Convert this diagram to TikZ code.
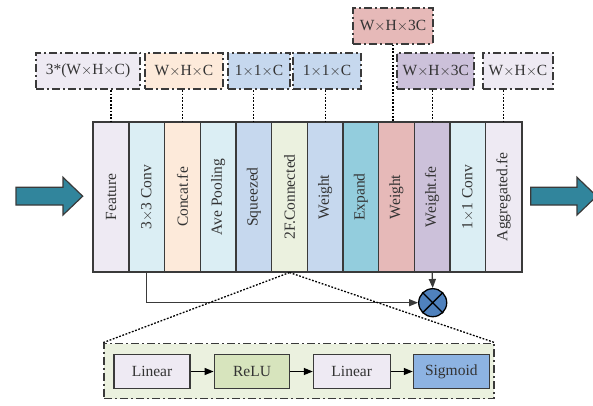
\documentclass[tikz,border=0pt]{standalone}
\usepackage{fontspec}
\setmainfont{Liberation Serif}
\usetikzlibrary{arrows.meta}
\definecolor{lav}{HTML}{EEEAF3}
\definecolor{cyanl}{HTML}{DBEEF4}
\definecolor{peach}{HTML}{FDEADA}
\definecolor{bluel}{HTML}{C6D8EE}
\definecolor{greenl}{HTML}{EBF1DF}
\definecolor{tealc}{HTML}{93CDDD}
\definecolor{pinkc}{HTML}{E6B9B8}
\definecolor{purpc}{HTML}{CCC1DA}
\definecolor{reluc}{HTML}{D7E4BD}
\definecolor{sigc}{HTML}{8DB3E2}
\definecolor{otc}{HTML}{4F81BD}
\definecolor{arrc}{HTML}{31859C}
\definecolor{edge}{HTML}{3A3A3A}
\begin{document}
\begin{tikzpicture}[x=1pt,y=-1pt,
  font=\fontsize{15.5}{18}\selectfont,
  colbox/.style={draw=edge,line width=1.1pt,minimum width=35.67pt,minimum height=150pt,inner sep=0pt},
  coltext/.style={rotate=90,text=black!80,inner sep=0pt},
  dimbox/.style={draw=edge,line width=1.7pt,dash pattern=on 8pt off 3pt on 2pt off 3pt,inner sep=0pt,minimum height=36.6pt,text=black!80},
  dotline/.style={black,line width=1.3pt,dash pattern=on 1.8pt off 1.6pt},
  conn/.style={edge,line width=1.3pt,-{Triangle[length=9pt,width=7pt]}},
  fcbox/.style={draw=edge,line width=1.1pt,minimum height=34.4pt,inner sep=0pt,text=black!80},
  bigarrow/.style={draw=edge,line width=1.2pt,fill=arrc}
]
\useasboundingbox (0,0) rectangle (593,406);

% columns
\foreach \i/\c/\t in {1/lav/Feature,2/cyanl/3$\times$3 Conv,3/peach/Concat.fe,4/cyanl/Ave Pooling,5/bluel/Squeezed,6/greenl/2F.Connected,7/bluel/Weight,8/tealc/Expand,9/pinkc/Weight,10/purpc/Weight.fe,11/cyanl/1$\times$1 Conv,12/lav/Aggregated.fe}{
  \node[colbox,fill=\c] (c\i) at ({93.3+35.67*(\i-0.5)},197) {};
  \node[coltext] (t\i) at (c\i.center) {\t};
}
\draw[edge,line width=1.6pt] (c1.north west) rectangle (c12.south east);

% dimension boxes
\node[dimbox,fill=lav,minimum width=104pt] (b1) at (88,71) {3*(W$\times$H$\times$C)};
\node[dimbox,fill=peach,minimum width=77.4pt] (b2) at (184,71) {W$\times$H$\times$C};
\node[dimbox,fill=bluel,minimum width=62pt] (b3) at (259,71) {1$\times$1$\times$C};
\node[dimbox,fill=bluel,minimum width=67.7pt] (b4) at (327,71) {1$\times$1$\times$C};
\node[dimbox,fill=purpc,minimum width=77pt] (b5) at (435.8,71) {W$\times$H$\times$3C};
\node[dimbox,fill=lav,minimum width=70.6pt] (b6) at (518,71) {W$\times$H$\times$C};
\node[dimbox,fill=pinkc,minimum width=79.4pt,minimum height=35.7pt] (tb) at (393,26) {W$\times$H$\times$3C};

\draw[dotline] (b1.south -| c1.north) -- (c1.north);
\draw[dotline] (b2.south -| c3.north) -- (c3.north);
\draw[dotline] (b3.south -| c5.north) -- (c5.north);
\draw[dotline] (b4.south -| c7.north) -- (c7.north);
\draw[dotline] (tb.south) -- (tb.south |- c9.north);
\draw[dotline] (b5.south -| c10.north) -- (c10.north);
\draw[dotline] (b6.south -| c12.north) -- (c12.north);

% big arrows
\draw[bigarrow] (16,187.3) -- (63,187.3) -- (63,177.3) -- (82.7,196.2) -- (63,215) -- (63,205) -- (16,205) -- cycle;
\draw[bigarrow] (530.7,187.3) -- (577,187.3) -- (577,177.3) -- (596.7,196.2) -- (577,215) -- (577,205) -- (530.7,205) -- cycle;

% otimes
\node[circle,draw=black,line width=1.3pt,fill=otc,minimum size=28pt,inner sep=0pt] (ot) at (432.7,302.7) {};
\draw[black,line width=1.3pt] (ot.north east) -- (ot.south west) (ot.north west) -- (ot.south east);
\draw[conn] (c10.south) -- (ot.north);
\draw[conn] (c2.south) -- (c2.south |- ot.west) -- (ot.west);

% bottom FC detail
\node[draw=edge,line width=1.7pt,dash pattern=on 8pt off 3pt on 2pt off 3pt,fill=greenl,minimum width=390pt,minimum height=55pt,inner sep=0pt] (bb) at (299,371) {};
\draw[dotline] (c6.south) -- (bb.north west);
\draw[dotline] (c6.south) -- (bb.north east);

\node[fcbox,fill=lav,minimum width=76pt] (l1) at (152,371.5) {Linear};
\node[fcbox,fill=reluc,minimum width=75.7pt] (r1) at (252,371.5) {ReLU};
\node[fcbox,fill=lav,minimum width=76.7pt] (l2) at (351.7,371.5) {Linear};
\node[fcbox,fill=sigc,minimum width=76pt] (s1) at (451.3,371.5) {Sigmoid};
\draw[conn,black] (l1) -- (r1);
\draw[conn,black] (r1) -- (l2);
\draw[conn,black] (l2) -- (s1);
\end{tikzpicture}
\end{document}
